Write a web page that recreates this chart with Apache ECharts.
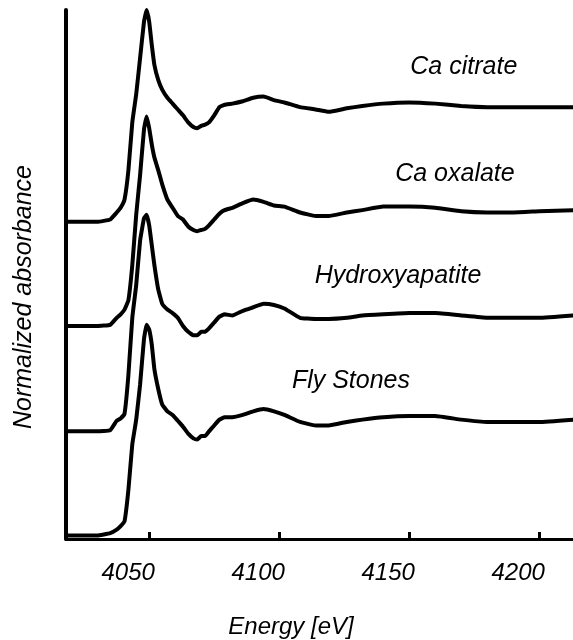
<!DOCTYPE html>
<html><head><meta charset="utf-8">
<script src="https://cdn.jsdelivr.net/npm/echarts@6/dist/echarts.min.js"></script>
<style>html,body{margin:0;padding:0;background:#fff}#c{width:573px;height:640px}</style>
</head><body><div id="c"></div>
<script>
// Energy grid (eV)
const energy = [4018, 4030, 4035, 4037.5, 4039, 4040.5, 4042, 4043.5, 4045, 4046.5, 4048, 4049, 4050, 4051, 4052, 4053.5, 4055, 4057, 4059, 4061, 4063, 4065, 4067, 4068.5, 4070, 4071.5, 4073, 4075, 4077, 4079, 4082, 4086, 4090, 4094, 4098, 4102, 4108, 4114, 4119, 4126, 4132, 4140, 4150, 4160, 4170, 4180, 4190, 4200, 4213];
// Normalized absorbance of each sample
const caCitrate = [0, 0, 0.02, 0.08, 0.12, 0.19, 0.44, 0.85, 1.09, 1.40, 1.71, 1.81, 1.71, 1.51, 1.34, 1.21, 1.13, 1.06, 1.01, 0.96, 0.91, 0.85, 0.81, 0.80, 0.82, 0.83, 0.85, 0.91, 0.98, 1.00, 1.01, 1.03, 1.06, 1.07, 1.04, 1.02, 0.98, 0.96, 0.94, 0.97, 0.99, 1.01, 1.02, 1.01, 0.99, 0.98, 0.98, 0.98, 0.98];
const caOxalate = [0, 0, 0.01, 0.07, 0.10, 0.14, 0.22, 0.52, 0.95, 1.29, 1.68, 1.79, 1.69, 1.55, 1.44, 1.33, 1.21, 1.08, 1.01, 0.94, 0.91, 0.85, 0.82, 0.81, 0.82, 0.83, 0.86, 0.91, 0.96, 0.99, 1.01, 1.05, 1.08, 1.06, 1.03, 1.02, 0.97, 0.94, 0.94, 0.97, 0.99, 1.02, 1.02, 1.01, 0.98, 0.97, 0.97, 0.98, 0.99];
const hydroxyapatite = [0, 0, 0.01, 0.09, 0.11, 0.15, 0.48, 0.97, 1.25, 1.63, 1.82, 1.85, 1.76, 1.59, 1.42, 1.21, 1.09, 1.04, 1.01, 0.97, 0.90, 0.85, 0.82, 0.82, 0.85, 0.85, 0.88, 0.93, 0.98, 1.00, 0.99, 1.03, 1.06, 1.09, 1.08, 1.05, 0.97, 0.96, 0.96, 0.97, 0.99, 1.00, 1.01, 1.01, 0.99, 0.97, 0.97, 0.97, 0.99];
const flyStones = [0, 0, 0.02, 0.05, 0.08, 0.12, 0.39, 0.78, 0.99, 1.29, 1.68, 1.80, 1.76, 1.63, 1.42, 1.25, 1.12, 1.06, 1.03, 0.98, 0.93, 0.87, 0.83, 0.82, 0.85, 0.85, 0.89, 0.94, 0.99, 1.01, 1.01, 1.03, 1.06, 1.08, 1.06, 1.03, 0.97, 0.94, 0.94, 0.97, 0.99, 1.01, 1.02, 1.02, 0.99, 0.97, 0.97, 0.97, 0.99];
const seriesNames = ['Ca citrate', 'Ca oxalate', 'Hydroxyapatite', 'Fly Stones'];
const seriesValues = [caCitrate, caOxalate, hydroxyapatite, flyStones];
const offsets = [2.71, 1.82, 0.92, 0.03];
const xTicks = [4050, 4100, 4150, 4200];
// label anchor positions in data coordinates [energy, stacked value]
const labelAnchors = [[4171, 4.03], [4167.6, 3.12], [4145.7, 2.25], [4127.6, 1.35]];

const FONT = "Arial, 'Liberation Sans', sans-serif";
const chart = echarts.init(document.getElementById('c'), null, {renderer: 'canvas'});
const series = seriesValues.map((vals, k) => ({
  name: seriesNames[k],
  type: 'line',
  symbol: 'none',
  smooth: 0.1,
  lineStyle: {color: '#000', width: 4, join: 'round', cap: 'round'},
  data: energy.map((e, i) => [e, vals[i] + offsets[k]]),
  z: 3
}));
chart.setOption({
  animation: false,
  backgroundColor: '#fff',
  grid: {left: 66, right: 0, top: 10, bottom: 101},
  xAxis: {
    type: 'value', min: 4018, max: 4213,
    axisLine: {show: true, onZero: false, lineStyle: {color: '#000', width: 3}},
    axisTick: {show: true, inside: true, length: 7, customValues: xTicks, lineStyle: {color: '#000', width: 3}},
    axisLabel: {show: true, customValues: xTicks, formatter: v => String(v), color: '#000', fontSize: 24, fontStyle: 'italic', fontFamily: FONT, margin: 22, padding: [0, 42, 0, 0]},
    splitLine: {show: false}
  },
  yAxis: {
    type: 'value', min: 0, max: 4.52,
    axisLine: {show: true, onZero: false, lineStyle: {color: '#000', width: 4}},
    axisTick: {show: false}, axisLabel: {show: false}, splitLine: {show: false}
  },
  series: series
});
const gfx = labelAnchors.map((a, k) => {
  const p = chart.convertToPixel({gridIndex: 0}, a);
  return {type: 'text', x: p[0], y: p[1], style: {text: seriesNames[k], fill: '#000', font: 'italic 25px ' + FONT, align: 'center', verticalAlign: 'middle'}};
});
gfx.push({type: 'text', x: 291, y: 627, style: {text: 'Energy [eV]', fill: '#000', font: 'italic 24px ' + FONT, align: 'center', verticalAlign: 'middle'}});
gfx.push({type: 'text', x: 24, y: 297, rotation: Math.PI / 2, style: {text: 'Normalized absorbance', fill: '#000', font: 'italic 25px ' + FONT, align: 'center', verticalAlign: 'middle'}});
chart.setOption({graphic: gfx});
</script></body></html>
